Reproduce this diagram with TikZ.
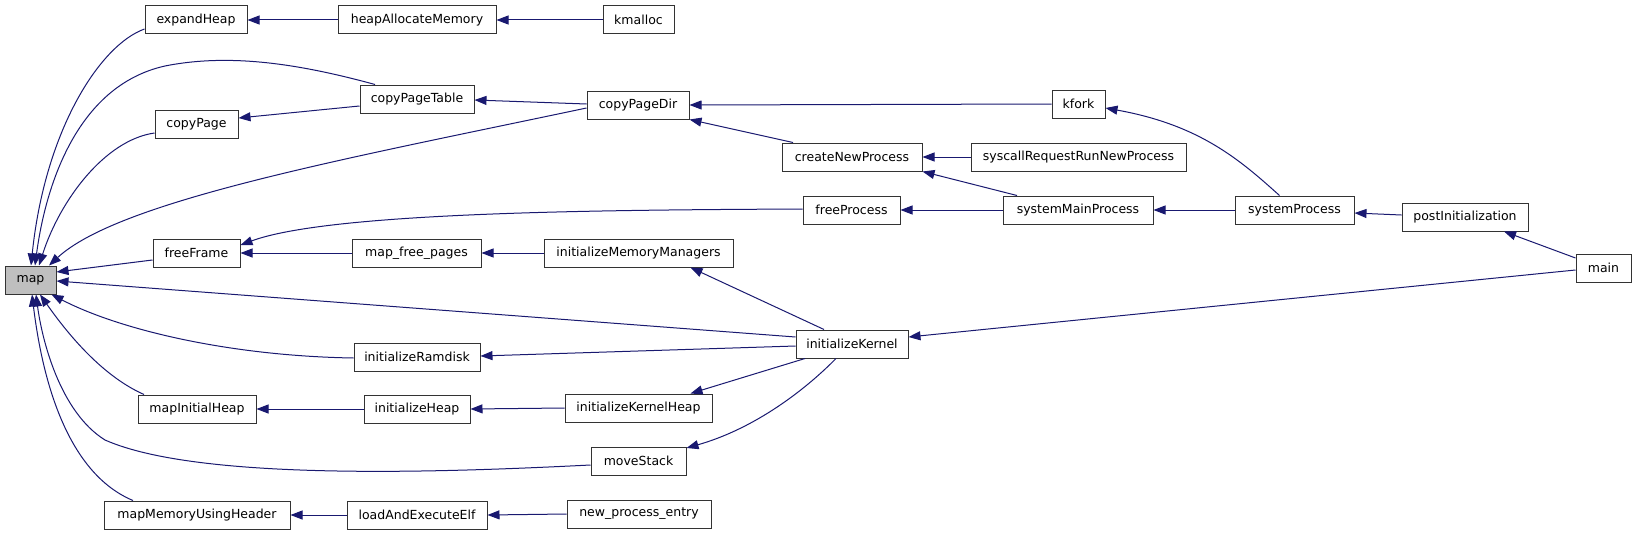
\documentclass[tikz,border=0pt]{standalone}
\usepackage{fontspec}
\setmainfont{DejaVu Sans}
\usetikzlibrary{arrows.meta}
\definecolor{edgeblue}{HTML}{191970}
\definecolor{mapgray}{HTML}{BFBFBF}
\begin{document}
\begin{tikzpicture}[x=1pt,y=-1pt,
  box/.style={draw=black!80,line width=1pt,fill=white,minimum height=28pt,inner sep=0pt,font=\fontsize{12.5}{14}\selectfont},
  edge/.style={draw=edgeblue,line width=1pt,-{Triangle[length=12pt,width=9pt]}}]
\useasboundingbox[fill=white] (0,0) rectangle (1637,535);
% nodes
\node[box,fill=mapgray,minimum width=51pt] (map) at (30.5,280) {map};
\node[box,minimum width=102pt] (expandHeap) at (196,20) {expandHeap};
\node[box,minimum width=158pt] (heapAllocateMemory) at (417,20) {heapAllocateMemory};
\node[box,minimum width=71pt] (kmalloc) at (638.5,20) {kmalloc};
\node[box,minimum width=114pt] (copyPageTable) at (417,99) {copyPageTable};
\node[box,minimum width=83pt] (copyPage) at (196.5,124) {copyPage};
\node[box,minimum width=102pt] (copyPageDir) at (638,105) {copyPageDir};
\node[box,minimum width=53pt] (kfork) at (1078.5,104) {kfork};
\node[box,minimum width=140pt] (createNewProcess) at (852,157) {createNewProcess};
\node[box,minimum width=215pt] (syscall) at (1078.5,157) {syscallRequestRunNewProcess};
\node[box,minimum width=97pt] (freeProcess) at (851.5,210) {freeProcess};
\node[box,minimum width=150pt] (systemMainProcess) at (1078,210) {systemMainProcess};
\node[box,minimum width=119pt] (systemProcess) at (1294.5,210) {systemProcess};
\node[box,minimum width=126pt] (postInit) at (1465,217) {postInitialization};
\node[box,minimum width=55pt] (main) at (1603.5,268) {main};
\node[box,minimum width=87pt] (freeFrame) at (196.5,253) {freeFrame};
\node[box,minimum width=129pt] (mapFreePages) at (416.5,253) {map\_free\_pages};
\node[box,minimum width=189pt] (initMM) at (638.5,253) {initializeMemoryManagers};
\node[box,minimum width=112pt] (initKernel) at (852,344) {initializeKernel};
\node[box,minimum width=126pt] (initRamdisk) at (417,357) {initializeRamdisk};
\node[box,minimum width=118pt] (mapInitialHeap) at (197,409) {mapInitialHeap};
\node[box,minimum width=106pt] (initHeap) at (417,409) {initializeHeap};
\node[box,minimum width=147pt] (initKernelHeap) at (638.5,408) {initializeKernelHeap};
\node[box,minimum width=95pt] (moveStack) at (638.5,461) {moveStack};
\node[box,minimum width=186pt] (mapMem) at (197,515) {mapMemoryUsingHeader};
\node[box,minimum width=140pt] (loadElf) at (417,515) {loadAndExecuteElf};
\node[box,minimum width=144pt] (newProc) at (639,514) {new\_process\_entry};
% edges into map
\draw[edge] ([yshift=-9pt]expandHeap.west) .. controls (100,45) and (45,130) .. ([xshift=0.5pt]map.north);
\draw[edge] ([xshift=-42pt]copyPageTable.north) .. controls (300,64) and (230,53) .. (165,66) .. controls (75,86) and (45,190) .. ([xshift=4.5pt]map.north);
\draw[edge] ([yshift=-9pt]copyPage.west) .. controls (105,140) and (60,200) .. ([xshift=8.5pt]map.north);
\draw[edge] ([yshift=-3pt]copyPageDir.west) .. controls (350,158) and (120,200) .. ([xshift=18.5pt]map.north);
\draw[edge] ([yshift=-7pt]freeFrame.west) -- ([yshift=8pt]map.east);
\draw[edge] ([yshift=7pt]initKernel.west) -- ([yshift=-1pt]map.east);
\draw[edge] ([yshift=-1pt]initRamdisk.west) .. controls (230,356) and (120,330) .. ([xshift=21pt]map.south);
\draw[edge] ([xshift=-53pt]mapInitialHeap.north) .. controls (100,375) and (65,330) .. ([xshift=9.5pt]map.south);
\draw[edge] ([yshift=-4pt]moveStack.west) .. controls (450,472) and (200,482) .. (105,440) .. controls (60,412) and (42,340) .. ([xshift=5.5pt]map.south);
\draw[edge] ([xshift=-64pt]mapMem.north) .. controls (60,470) and (40,360) .. ([xshift=1.5pt]map.south);
% other edges
\draw[edge] (heapAllocateMemory.west) -- (expandHeap.east);
\draw[edge] (kmalloc.west) -- (heapAllocateMemory.east);
\draw[edge] ([yshift=-7pt]copyPageTable.west) -- ([yshift=6pt]copyPage.east);
\draw[edge] ([yshift=1pt]copyPageDir.west) -- ([yshift=-1pt]copyPageTable.east);
\draw[edge] (kfork.west) -- (copyPageDir.east);
\draw[edge] ([xshift=-59pt]createNewProcess.north) -- (copyPageDir.south east);
\draw[edge] (syscall.west) -- (createNewProcess.east);
\draw[edge] ([xshift=-61pt]systemMainProcess.north) -- (createNewProcess.south east);
\draw[edge] ([yshift=1pt]freeProcess.west) .. controls (600,210) and (330,212) .. ([yshift=8pt]freeFrame.east);
\draw[edge] (mapFreePages.west) -- (freeFrame.east);
\draw[edge] (initMM.west) -- (mapFreePages.east);
\draw[edge] ([xshift=-28pt]initKernel.north) -- ([xshift=52pt]initMM.south);
\draw[edge] (systemMainProcess.west) -- (freeProcess.east);
\draw[edge] (systemProcess.west) -- (systemMainProcess.east);
\draw[edge] ([xshift=-15pt]systemProcess.north) .. controls (1240,160) and (1200,125) .. ([yshift=-4pt]kfork.east);
\draw[edge] ([yshift=2pt]postInit.west) -- ([yshift=-3pt]systemProcess.east);
\draw[edge] ([yshift=10pt]main.west) -- ([xshift=39pt]postInit.south);
\draw[edge] ([yshift=-2pt]main.west) -- ([yshift=7pt]initKernel.east);
\draw[edge] ([yshift=-2pt]initKernel.west) -- ([yshift=1pt]initRamdisk.east);
\draw[edge] (initHeap.west) -- (mapInitialHeap.east);
\draw[edge] (initKernelHeap.west) -- (initHeap.east);
\draw[edge] ([xshift=-47pt]initKernel.south) -- ([xshift=52pt]initKernelHeap.north);
\draw[edge] ([xshift=-16pt]initKernel.south) .. controls (800,395) and (750,430) .. ([yshift=13pt]moveStack.east);
\draw[edge] (loadElf.west) -- (mapMem.east);
\draw[edge] (newProc.west) -- (loadElf.east);
\end{tikzpicture}
\end{document}
